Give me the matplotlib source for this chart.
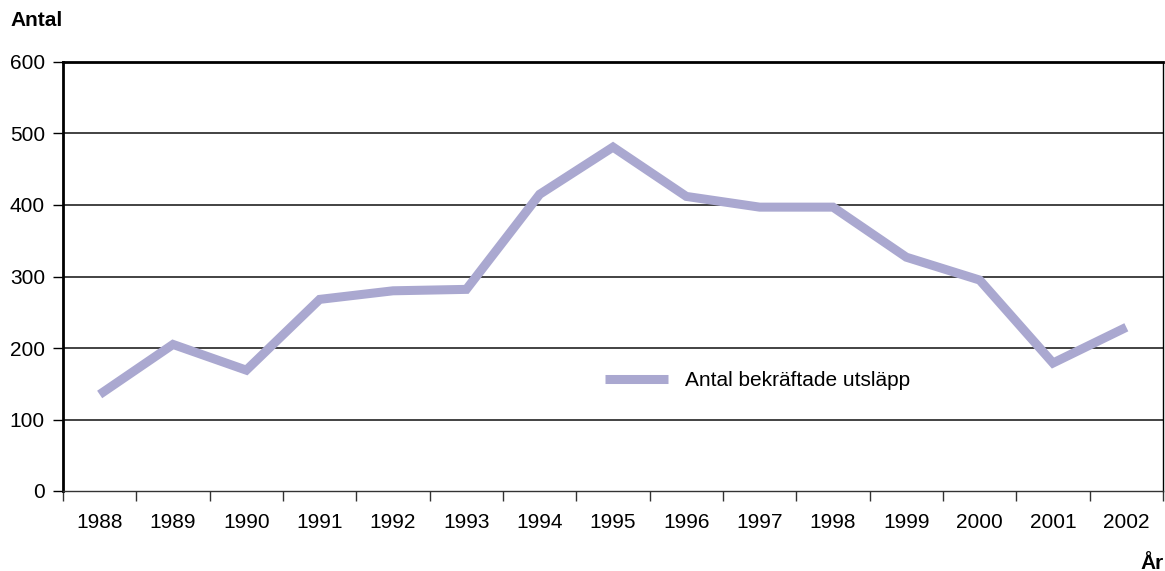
import numpy as np
import matplotlib.pyplot as plt
from matplotlib.lines import Line2D

plt.rcParams['font.family'] = ['Liberation Sans', 'DejaVu Sans']

years = ['1988', '1989', '1990', '1991', '1992', '1993', '1994', '1995',
         '1996', '1997', '1998', '1999', '2000', '2001', '2002']
utslapp = [135, 205, 169, 268, 280, 282, 415, 481,
           412, 397, 397, 327, 295, 179, 229]
series_label = 'Antal bekräftade utsläpp'
y_ticks = [0, 100, 200, 300, 400, 500, 600]

line_color = '#aaa8d0'
fs = 15

#==============================================================================
fig = plt.figure(figsize=(11.65, 5.71), dpi=100)
ax = fig.add_axes([63 / 1165, (571 - 491) / 571, 1100 / 1165, 429 / 571])

x = np.arange(len(years))
ax.plot(x, utslapp, color=line_color, linewidth=6.5, solid_joinstyle='miter',
        solid_capstyle='butt', zorder=3)

ax.set_xlim(-0.5, len(years) - 0.5)
ax.set_ylim(0, 600)
ax.set_yticks(y_ticks)
ax.set_yticklabels([str(v) for v in y_ticks], fontsize=fs)

# category axis: ticks between categories, labels at centers
ax.set_xticks(np.arange(-0.5, len(years), 1.0))
ax.set_xticklabels([])
ax.set_xticks(x, minor=True)
ax.set_xticklabels(years, minor=True, fontsize=fs)
ax.tick_params(axis='x', which='major', length=7, width=1, color='#333333')
ax.tick_params(axis='x', which='minor', length=0, pad=15.5)
ax.tick_params(axis='y', length=7, width=1, pad=6)

for v in y_ticks[1:-1]:
    ax.axhline(v, color='#222222', linewidth=1.2, zorder=1)

ax.spines['top'].set_linewidth(2)
ax.spines['top'].set_color('black')
ax.spines['left'].set_linewidth(2)
ax.spines['right'].set_linewidth(1)
ax.spines['bottom'].set_linewidth(1)
ax.spines['bottom'].set_color('#333333')

handle = Line2D([], [], color=line_color, linewidth=6.5, solid_capstyle='butt')
ax.legend([handle], [series_label], loc='center left',
          bbox_to_anchor=(542 / 1100, 110 / 429), frameon=False, fontsize=fs,
          handlelength=3.0, handletextpad=0.82, borderpad=0, borderaxespad=0)

fig.text(10 / 1165, 1 - 21 / 571, 'Antal', fontsize=fs, fontweight='bold',
         va='center', ha='left')
fig.text(1164 / 1165, 1 - 569 / 571, 'År', fontsize=fs, fontweight='bold',
         va='baseline', ha='right')

fig.savefig('out.png', dpi=100)
plt.close(fig)
